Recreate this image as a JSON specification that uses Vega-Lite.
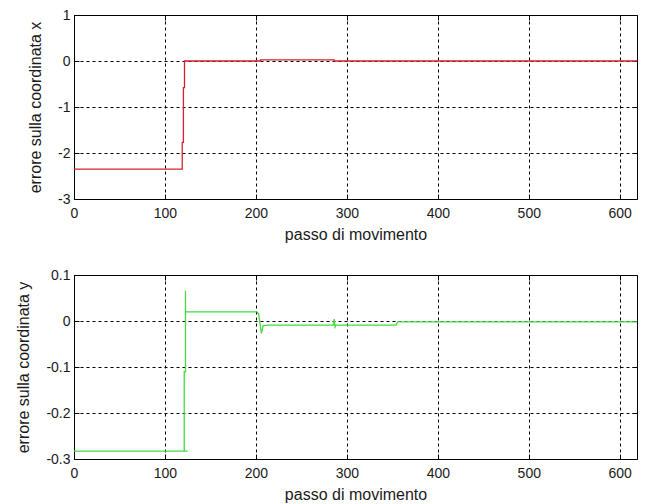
{
  "$schema": "https://vega.github.io/schema/vega-lite/v6.json",
  "padding": {"left": 15, "top": 7, "right": 5, "bottom": 5},
  "background": "white",
  "datasets": {
    "ex": [
      {"passo": 0, "errore": -2.35},
      {"passo": 119, "errore": -2.35},
      {"passo": 119, "errore": -1.77},
      {"passo": 120.3, "errore": -1.77},
      {"passo": 120.3, "errore": -0.58},
      {"passo": 121.5, "errore": -0.58},
      {"passo": 121.5, "errore": 0},
      {"passo": 205, "errore": 0},
      {"passo": 205, "errore": 0.025},
      {"passo": 286, "errore": 0.025},
      {"passo": 286, "errore": 0},
      {"passo": 619, "errore": 0}
    ],
    "ey": [
      {"passo": 0, "errore": -0.283},
      {"passo": 125, "errore": -0.283},
      {"passo": 121.2, "errore": -0.283},
      {"passo": 121.2, "errore": -0.11},
      {"passo": 122.6, "errore": -0.11},
      {"passo": 122.6, "errore": 0.066},
      {"passo": 122.6, "errore": 0.02},
      {"passo": 201, "errore": 0.02},
      {"passo": 203, "errore": 0.016},
      {"passo": 206, "errore": -0.027},
      {"passo": 208, "errore": -0.01},
      {"passo": 214, "errore": -0.009},
      {"passo": 285, "errore": -0.009},
      {"passo": 286, "errore": 0.004},
      {"passo": 287, "errore": -0.013},
      {"passo": 288, "errore": -0.009},
      {"passo": 354, "errore": -0.009},
      {"passo": 356, "errore": -0.002},
      {"passo": 619, "errore": -0.002}
    ]
  },
  "vconcat": [
    {
      "width": 563,
      "height": 184,
      "data": {"name": "ex"},
      "layer": [
        {
          "mark": {"type": "line", "color": "#d42030", "strokeWidth": 1.3},
          "encoding": {
            "x": {
              "field": "passo", "type": "quantitative",
              "scale": {"domain": [0, 619], "nice": false, "zero": false},
              "axis": {"orient": "bottom", "values": [0, 100, 200, 300, 400, 500, 600], "title": "passo di movimento"}
            },
            "y": {
              "field": "errore", "type": "quantitative",
              "scale": {"domain": [-3, 1], "nice": false, "zero": false},
              "axis": {"orient": "left", "values": [-3, -2, -1, 0, 1], "title": "errore sulla coordinata x"}
            },
            "order": {"value": null}
          }
        },
        {
          "mark": {"type": "line", "opacity": 0},
          "encoding": {
            "x": {"field": "passo", "type": "quantitative", "axis": {"orient": "top", "values": [0, 100, 200, 300, 400, 500, 600], "labels": false, "grid": false, "title": null}},
            "y": {"field": "errore", "type": "quantitative", "axis": {"orient": "right", "values": [-3, -2, -1, 0, 1], "labels": false, "grid": false, "title": null}},
            "order": {"value": null}
          }
        }
      ],
      "resolve": {"axis": {"x": "independent", "y": "independent"}}
    },
    {
      "width": 563,
      "height": 184,
      "data": {"name": "ey"},
      "layer": [
        {
          "mark": {"type": "line", "color": "#42dc42", "strokeWidth": 1.3},
          "encoding": {
            "x": {
              "field": "passo", "type": "quantitative",
              "scale": {"domain": [0, 619], "nice": false, "zero": false},
              "axis": {"orient": "bottom", "values": [0, 100, 200, 300, 400, 500, 600], "title": "passo di movimento"}
            },
            "y": {
              "field": "errore", "type": "quantitative",
              "scale": {"domain": [-0.3, 0.1], "nice": false, "zero": false},
              "axis": {"orient": "left", "values": [-0.3, -0.2, -0.1, 0, 0.1], "title": "errore sulla coordinata y"}
            },
            "order": {"value": null}
          }
        },
        {
          "mark": {"type": "line", "opacity": 0},
          "encoding": {
            "x": {"field": "passo", "type": "quantitative", "axis": {"orient": "top", "values": [0, 100, 200, 300, 400, 500, 600], "labels": false, "grid": false, "title": null}},
            "y": {"field": "errore", "type": "quantitative", "axis": {"orient": "right", "values": [-0.3, -0.2, -0.1, 0, 0.1], "labels": false, "grid": false, "title": null}},
            "order": {"value": null}
          }
        }
      ],
      "resolve": {"axis": {"x": "independent", "y": "independent"}}
    }
  ],
  "spacing": 76,
  "bounds": "flush",
  "config": {
    "font": "Liberation Sans",
    "view": {"stroke": "#000000", "strokeWidth": 1},
    "axis": {
      "domain": false,
      "grid": true,
      "gridColor": "#000000",
      "gridDash": [3, 3],
      "gridOpacity": 1,
      "gridWidth": 1,
      "ticks": true,
      "tickColor": "#000000",
      "tickSize": -5,
      "labelFont": "Liberation Sans",
      "labelFontSize": 14,
      "labelColor": "#1a1a1a",
      "labelExpr": "toString(round(datum.value * 10) / 10)",
      "titleFont": "Liberation Sans",
      "titleFontSize": 16,
      "titleFontWeight": "normal",
      "titleColor": "#1a1a1a"
    },
    "axisX": {"labelPadding": 12, "labelFlush": false, "titlePadding": 6},
    "axisY": {"labelPadding": 9, "titlePadding": 14}
  }
}
